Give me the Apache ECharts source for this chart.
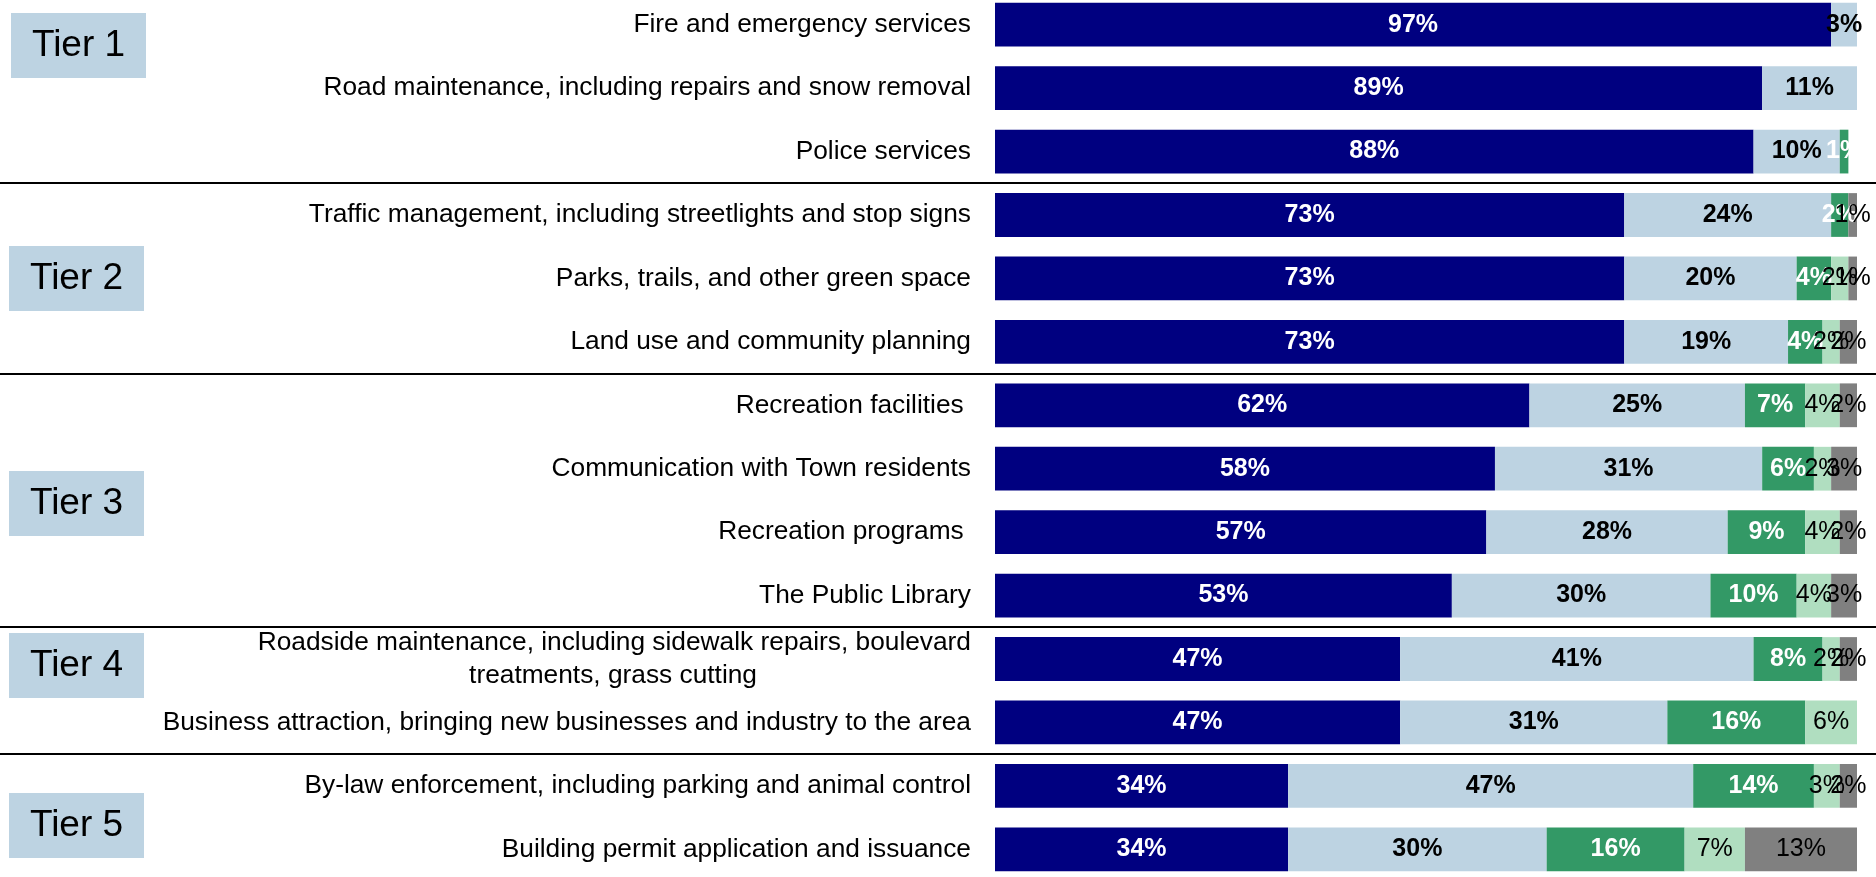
<!DOCTYPE html>
<html>
<head>
<meta charset="utf-8">
<script src="https://cdn.jsdelivr.net/npm/echarts@6/dist/echarts.min.js"></script>
<style>
  html, body { margin: 0; padding: 0; background: #fff; overflow: hidden; }
  /* the plot runs a few pixels past the top and bottom edges of the page */
  #chart { width: 1876px; height: 888px; margin-top: -7px; }
</style>
</head>
<body>
<div id="chart"></div>
<script>
// Services, top to bottom
const services = [
  'Fire and emergency services',
  'Road maintenance, including repairs and snow removal',
  'Police services',
  'Traffic management, including streetlights and stop signs',
  'Parks, trails, and other green space',
  'Land use and community planning',
  'Recreation facilities ',
  'Communication with Town residents',
  'Recreation programs ',
  'The Public Library',
  'Roadside maintenance, including sidewalk repairs, boulevard\ntreatments, grass cutting',
  'Business attraction, bringing new businesses and industry to the area',
  'By-law enforcement, including parking and animal control',
  'Building permit application and issuance'
];

// Response shares (%) per service, one array per rating band
const bandA = [97, 89, 88, 73, 73, 73, 62, 58, 57, 53, 47, 47, 34, 34];
const bandB = [3, 11, 10, 24, 20, 19, 25, 31, 28, 30, 41, 31, 47, 30];
const bandC = [null, null, 1, 2, 4, 4, 7, 6, 9, 10, 8, 16, 14, 16];
const bandD = [null, null, null, null, 2, 2, 4, 2, 4, 4, 2, 6, 3, 7];
const bandE = [null, null, null, 1, 1, 2, 2, 3, 2, 3, 2, null, 2, 13];

// Tier groupings: label and number of services in each
const tierNames = ['Tier 1', 'Tier 2', 'Tier 3', 'Tier 4', 'Tier 5'];
const tierSizes = [3, 3, 4, 2, 2];

const FONT = '"Liberation Sans", Arial, sans-serif';
const OFFSET = 7; // container starts this far above the page

function band(name, data, color, textColor, bold) {
  return {
    name: name,
    type: 'bar',
    stack: 'total',
    data: data,
    barCategoryGap: '31%',
    itemStyle: { color: color },
    label: {
      show: true,
      position: 'inside',
      color: textColor,
      fontFamily: FONT,
      fontSize: 25,
      fontWeight: bold ? 'bold' : 'normal',
      formatter: p => (p.value == null ? '' : p.value + '%')
    },
    emphasis: { disabled: true }
  };
}

const chart = echarts.init(document.getElementById('chart'), null, { renderer: 'canvas' });

chart.setOption({
  animation: false,
  backgroundColor: '#ffffff',
  grid: { left: 995, right: 19, top: 0, bottom: 0, containLabel: false },
  xAxis: { type: 'value', min: 0, max: 100, show: false },
  yAxis: {
    type: 'category',
    inverse: true,
    data: services,
    axisLine: { show: false },
    axisTick: { show: false },
    splitLine: { show: false },
    axisLabel: {
      margin: 24,
      color: '#000',
      fontFamily: FONT,
      fontSize: 26.3,
      lineHeight: 33,
      formatter: v => {
        if (v.indexOf('\n') >= 0) {
          const parts = v.split('\n');
          return '{a|' + parts[0] + '}\n{b|' + parts[1] + '}';
        }
        return v;
      },
      rich: {
        a: { fontFamily: FONT, fontSize: 26.3, color: '#000', lineHeight: 33 },
        b: { fontFamily: FONT, fontSize: 26.3, color: '#000', lineHeight: 33, padding: [0, 214, 0, 0] }
      }
    }
  },
  series: [
    band('A', bandA, '#000080', '#ffffff', true),
    band('B', bandB, '#bdd3e2', '#000000', true),
    band('C', bandC, '#339966', '#ffffff', true),
    band('D', bandD, '#b0dec0', '#000000', false),
    band('E', bandE, '#808080', '#000000', false)
  ]
});

// Separator rules between tiers, placed on the category boundaries
const centers = services.map(s => chart.convertToPixel({ yAxisIndex: 0 }, s));
const graphics = [];
let idx = 0;
tierSizes.forEach((n, t) => {
  idx += n;
  if (t < tierSizes.length - 1) {
    const y = Math.round((centers[idx - 1] + centers[idx]) / 2);
    graphics.push({
      type: 'line',
      shape: { x1: 0, y1: y, x2: 1876, y2: y },
      style: { stroke: '#000', lineWidth: 2 },
      z: 10
    });
  }
});

// Tier name boxes
const tierBoxes = [
  { x: 11, y: 13 },
  { x: 9, y: 246 },
  { x: 9, y: 471 },
  { x: 9, y: 633 },
  { x: 9, y: 793 }
];
tierBoxes.forEach((b, i) => {
  graphics.push({
    type: 'group',
    x: b.x,
    y: b.y + OFFSET,
    children: [
      { type: 'rect', shape: { x: 0, y: 0, width: 135, height: 65 }, style: { fill: '#bdd3e2' } },
      {
        type: 'text',
        x: 67.5,
        y: 32.5,
        style: {
          text: tierNames[i],
          fill: '#000',
          font: '37px ' + FONT,
          textAlign: 'center',
          textVerticalAlign: 'middle'
        }
      }
    ]
  });
});

chart.setOption({ graphic: graphics });
</script>
</body>
</html>
